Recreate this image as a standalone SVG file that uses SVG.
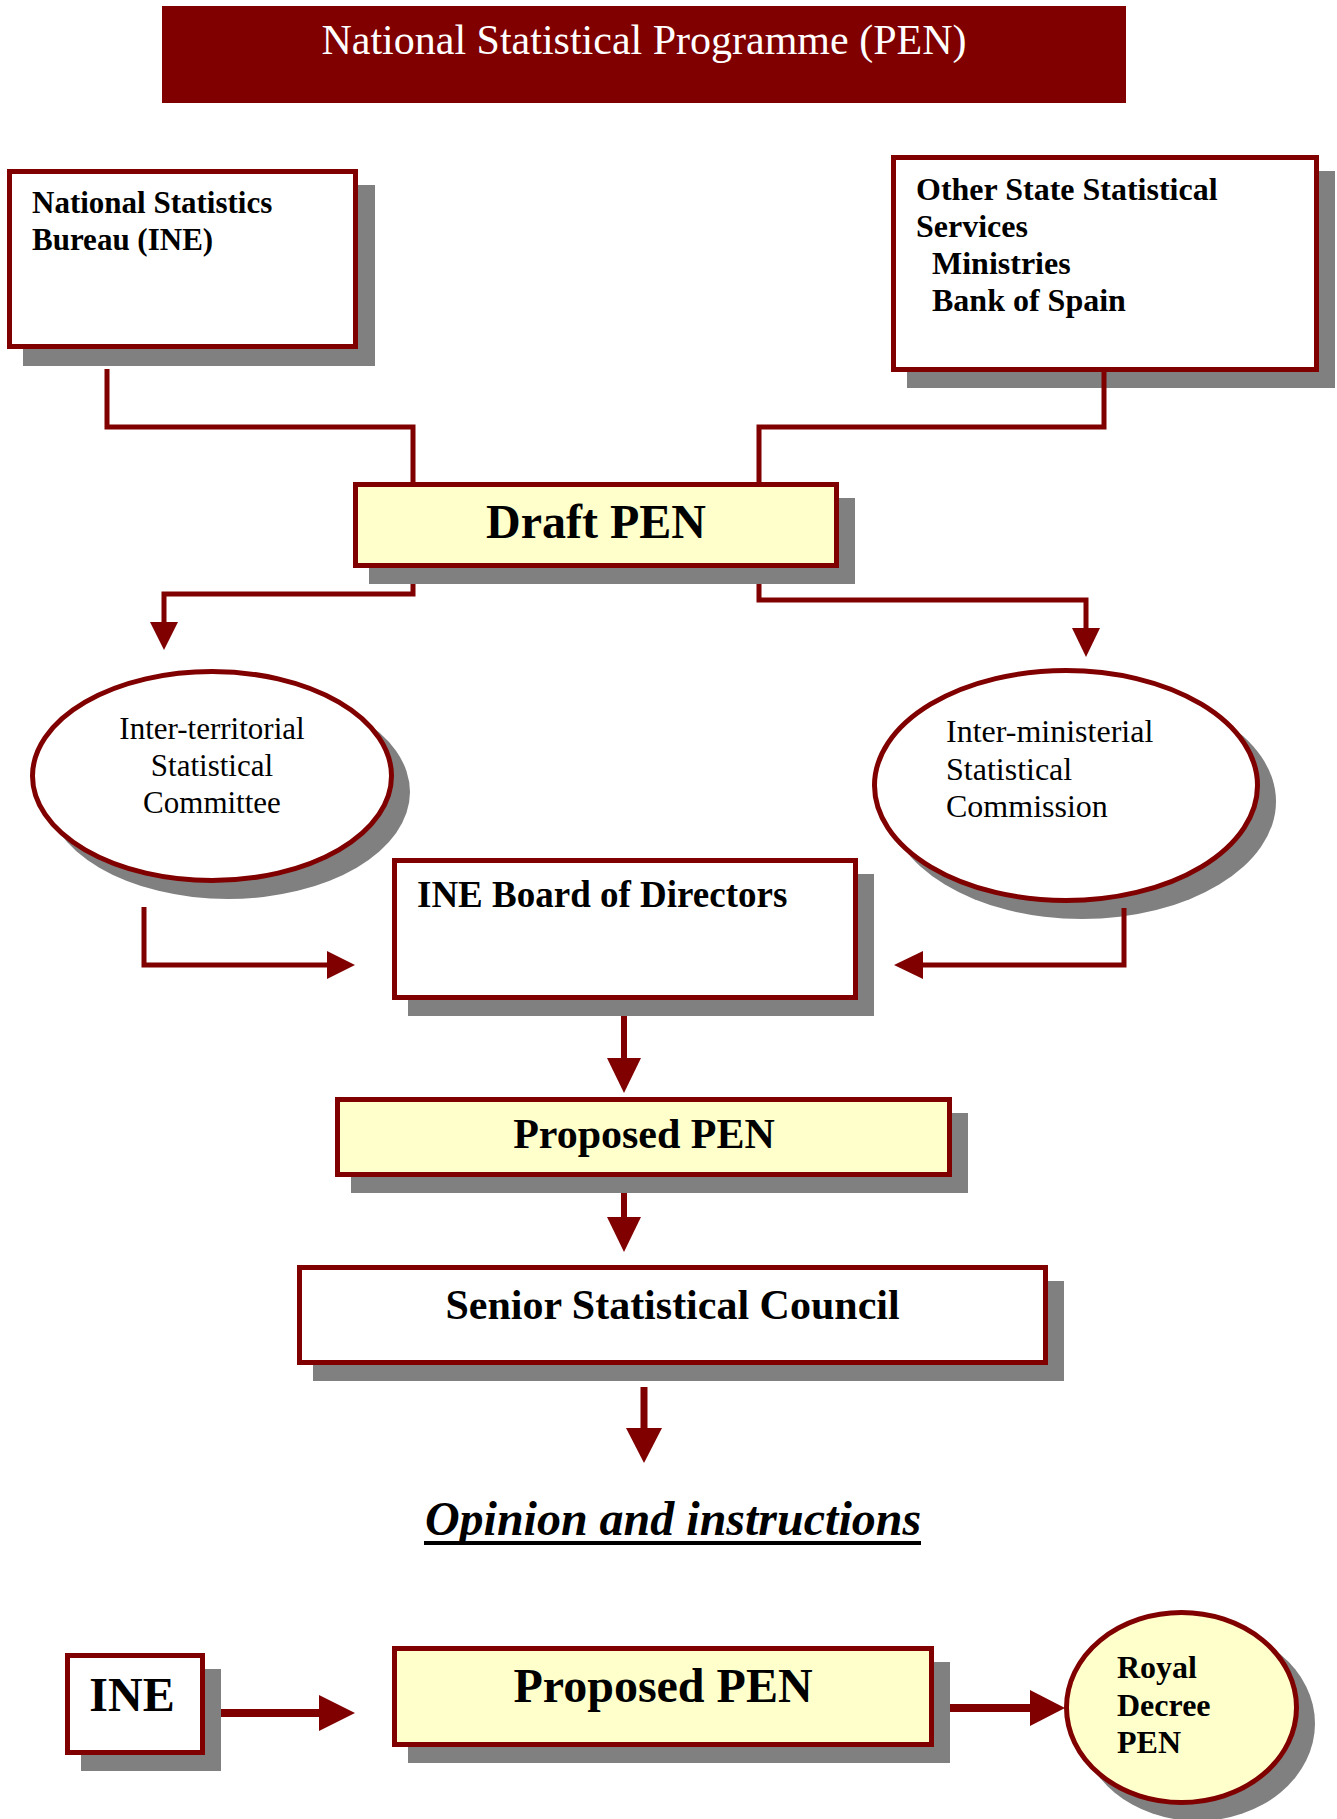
<svg xmlns="http://www.w3.org/2000/svg" width="1337" height="1819" viewBox="0 0 1337 1819">
<style>
  .box { fill: #ffffff; stroke: #800000; stroke-width: 5; }
  .ybox { fill: #ffffcc; stroke: #800000; stroke-width: 5; }
  .sh { fill: #808080; stroke: none; }
  .t { font-family: "Liberation Serif", "Times New Roman", serif; fill: #000000; }
  .b { font-weight: bold; }
  .c { text-anchor: middle; }
  .wire { fill: none; stroke: #800000; stroke-width: 5; }
  .head { fill: #800000; stroke: none; }
</style>
<rect x="0" y="0" width="1337" height="1819" fill="#ffffff"/>

<g id="title">
  <rect x="162" y="6" width="964" height="97" fill="#800000"/>
  <text class="t c" x="644" y="54" font-size="42" fill="#ffffff" style="fill:#ffffff">National Statistical Programme (PEN)</text>
</g>

<g id="node-ine-bureau">
  <rect class="sh" x="23" y="185" width="352" height="181"/>
  <rect class="box" x="9.5" y="171.5" width="346" height="175"/>
  <text class="t b" x="32" y="213" font-size="31">National Statistics</text>
  <text class="t b" x="32" y="250" font-size="31">Bureau (INE)</text>
</g>

<g id="node-other-services">
  <rect class="sh" x="907" y="171" width="428" height="217"/>
  <rect class="box" x="893.5" y="157.5" width="423" height="212"/>
  <text class="t b" x="916" y="200" font-size="32">Other State Statistical</text>
  <text class="t b" x="916" y="237" font-size="32">Services</text>
  <text class="t b" x="932" y="274" font-size="32">Ministries</text>
  <text class="t b" x="932" y="311" font-size="32">Bank of Spain</text>
</g>

<g id="node-draft-pen">
  <rect class="sh" x="369" y="498" width="486" height="86"/>
  <rect class="ybox" x="355.5" y="484.5" width="481" height="81"/>
  <text class="t b c" x="596" y="538" font-size="48">Draft PEN</text>
</g>

<g id="node-interterritorial">
  <ellipse class="sh" cx="228" cy="792" rx="182" ry="107"/>
  <ellipse class="box" cx="212" cy="776" rx="179.5" ry="104.5"/>
  <text class="t c" x="212" y="739" font-size="31">Inter-territorial</text>
  <text class="t c" x="212" y="776" font-size="31">Statistical</text>
  <text class="t c" x="212" y="813" font-size="31">Committee</text>
</g>

<g id="node-interministerial">
  <ellipse class="sh" cx="1082" cy="801.5" rx="194" ry="117.5"/>
  <ellipse class="box" cx="1066" cy="785.5" rx="191.5" ry="115"/>
  <text class="t" x="946" y="742" font-size="32">Inter-ministerial</text>
  <text class="t" x="946" y="780" font-size="32">Statistical</text>
  <text class="t" x="946" y="817" font-size="32">Commission</text>
</g>

<g id="node-board">
  <rect class="sh" x="408" y="874" width="466" height="142"/>
  <rect class="box" x="394.5" y="860.5" width="461" height="137"/>
  <text class="t b" x="417" y="907" font-size="37">INE Board of Directors</text>
</g>

<g id="node-proposed-pen">
  <rect class="sh" x="351" y="1113" width="617" height="80"/>
  <rect class="ybox" x="337.5" y="1099.5" width="612" height="75"/>
  <text class="t b c" x="644" y="1148" font-size="42">Proposed PEN</text>
</g>

<g id="node-senior-council">
  <rect class="sh" x="313" y="1281" width="751" height="100"/>
  <rect class="box" x="299.5" y="1267.5" width="746" height="95"/>
  <text class="t b c" x="672.5" y="1319" font-size="42">Senior Statistical Council</text>
</g>

<g id="node-opinion">
  <text class="t b c" x="673" y="1535" font-size="48" font-style="italic">Opinion and instructions</text>
  <line x1="424" y1="1543" x2="921" y2="1543" stroke="#000000" stroke-width="4"/>
</g>

<g id="node-ine">
  <rect class="sh" x="81" y="1669" width="140" height="102"/>
  <rect class="box" x="67.5" y="1655.5" width="135" height="97"/>
  <text class="t b c" x="132" y="1711" font-size="48">INE</text>
</g>

<g id="node-proposed-pen-final">
  <rect class="sh" x="408" y="1662" width="542" height="101"/>
  <rect class="ybox" x="394.5" y="1648.5" width="537" height="96"/>
  <text class="t b c" x="663" y="1702" font-size="48">Proposed PEN</text>
</g>

<g id="node-royal-decree">
  <ellipse class="sh" cx="1197.5" cy="1723.5" rx="117.5" ry="97.5"/>
  <ellipse class="ybox" cx="1181.5" cy="1707.5" rx="115" ry="95"/>
  <text class="t b" x="1117" y="1678" font-size="32">Royal</text>
  <text class="t b" x="1117" y="1716" font-size="32">Decree</text>
  <text class="t b" x="1117" y="1753" font-size="32">PEN</text>
</g>

<g id="connectors">
  <path class="wire" d="M107 369 V427 H413 V482"/>
  <path class="wire" d="M1104 372 V427 H759 V482"/>
  <path class="wire" d="M413 584 V594 H164 V623"/>
  <polygon class="head" points="150,622 178,622 164,650"/>
  <path class="wire" d="M759 584 V600 H1086 V629"/>
  <polygon class="head" points="1072,628 1100,628 1086,657"/>
  <path class="wire" d="M144 907 V965 H328"/>
  <polygon class="head" points="327,951 355,965 327,979"/>
  <path class="wire" d="M1124 908 V965 H922"/>
  <polygon class="head" points="923,951 894,965 923,979"/>
  <line x1="624" y1="1016" x2="624" y2="1059" stroke="#800000" stroke-width="6"/>
  <polygon class="head" points="607,1058 641,1058 624,1093"/>
  <line x1="624" y1="1193" x2="624" y2="1218" stroke="#800000" stroke-width="6"/>
  <polygon class="head" points="607,1217 641,1217 624,1252"/>
  <line x1="644" y1="1387" x2="644" y2="1429" stroke="#800000" stroke-width="7"/>
  <polygon class="head" points="626,1428 662,1428 644,1463"/>
  <line x1="221" y1="1713" x2="320" y2="1713" stroke="#800000" stroke-width="8"/>
  <polygon class="head" points="319,1695 355,1713 319,1731"/>
  <line x1="950" y1="1708" x2="1031" y2="1708" stroke="#800000" stroke-width="8"/>
  <polygon class="head" points="1030,1690 1065,1708 1030,1726"/>
</g>
</svg>
